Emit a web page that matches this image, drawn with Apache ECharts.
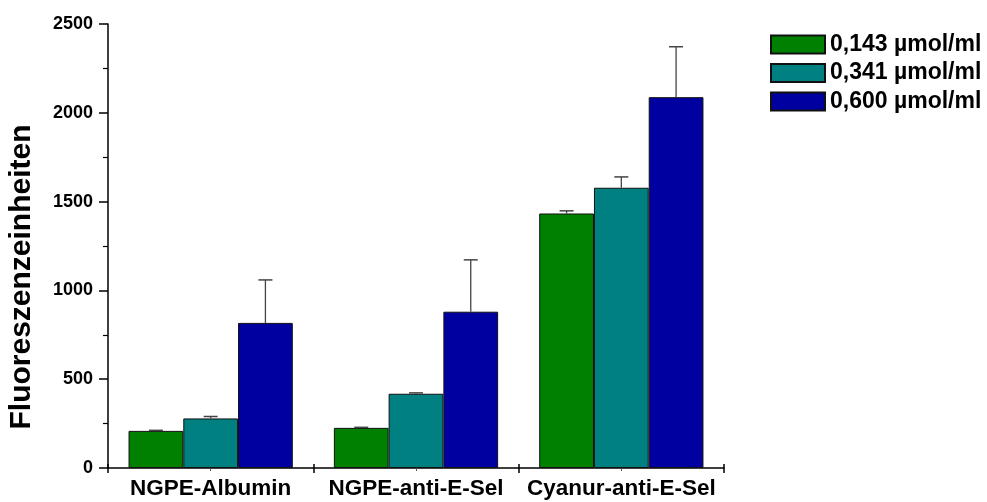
<!DOCTYPE html>
<html>
<head>
<meta charset="utf-8">
<script src="https://cdn.jsdelivr.net/npm/echarts@6/dist/echarts.min.js"></script>
<style>
  html, body { margin: 0; padding: 0; background: #fff; }
  #chart { width: 987px; height: 502px; }
</style>
</head>
<body>
<div id="chart"></div>
<script>
// Fluorescence units per formulation and lipid concentration
const categories = ['NGPE-Albumin', 'NGPE-anti-E-Sel', 'Cyanur-anti-E-Sel'];
const seriesNames = ['0,143 µmol/ml', '0,341 µmol/ml', '0,600 µmol/ml'];
const values143 = [209, 226, 1433];
const values341 = [279, 418, 1578];
const values600 = [817, 880, 2088];
// standard deviations (upper whisker only)
const err143 = [3, 3, 15];
const err341 = [11, 5, 61];
const err600 = [242, 292, 284];
const yTicks = { min: 0, max: 2500, interval: 500 };
const yTitle = 'Fluoreszenzeinheiten';

const colors = ['#008000', '#008080', '#0000A0'];
const seriesValues = [values143, values341, values600];
const seriesErrors = [err143, err341, err600];
const FONT = '"Liberation Sans", Arial, sans-serif';

const chart = echarts.init(document.getElementById('chart'));

const barSeries = seriesNames.map((name, i) => ({
  name: name,
  type: 'bar',
  xAxisIndex: 0,
  barGap: '0%',
  barCategoryGap: '20%',
  itemStyle: { color: colors[i], borderColor: '#111', borderWidth: 1 },
  data: seriesValues[i],
  z: 2
}));

const errorSeries = seriesNames.map((name, i) => ({
  type: 'custom',
  xAxisIndex: 0,
  z: 3,
  data: categories.map((c, k) => [k, seriesValues[i][k], seriesErrors[i][k]]),
  renderItem: function (params, api) {
    const k = api.value(0);
    const v = api.value(1);
    const e = api.value(2);
    const bandW = api.size([1, 0])[0];
    const barW = bandW * 0.8 / 3;
    const base = api.coord([k, v]);
    const top = api.coord([k, v + e]);
    const x = base[0] + (i - 1) * barW;
    const cap = 7;
    return {
      type: 'group',
      children: [
        { type: 'line', shape: { x1: x, y1: base[1], x2: x, y2: top[1] },
          style: { stroke: '#444', lineWidth: 1.3 } },
        { type: 'line', shape: { x1: x - cap, y1: top[1], x2: x + cap, y2: top[1] },
          style: { stroke: '#444', lineWidth: 1.5 } }
      ]
    };
  }
}));

chart.setOption({
  animation: false,
  backgroundColor: '#fff',
  grid: { left: 108, right: 263, top: 24, bottom: 34 },
  legend: {
    data: seriesNames,
    orient: 'vertical',
    left: 770,
    top: 33,
    padding: 0,
    icon: 'rect',
    itemWidth: 54,
    itemHeight: 18,
    itemGap: 5.5,
    textStyle: { fontFamily: FONT, fontWeight: 'bold', fontSize: 23, color: '#000' }
  },
  graphic: [
    {
      type: 'text',
      x: 22,
      y: 277,
      rotation: Math.PI / 2,
      style: {
        text: yTitle,
        fontFamily: FONT,
        fontWeight: 'bold',
        fontSize: 30,
        fill: '#000',
        align: 'center',
        verticalAlign: 'middle'
      }
    }
  ],
  xAxis: [
    {
      type: 'category',
      data: categories,
      position: 'bottom',
      axisLine: { lineStyle: { color: '#000', width: 1.5 } },
      axisTick: { show: true, length: 5, lineStyle: { color: '#000', width: 1.5 } },
      axisLabel: {
        interval: 0, hideOverlap: false,
        fontFamily: FONT, fontWeight: 'bold', fontSize: 22.5, color: '#000', margin: 9
      }
    },
    {
      type: 'category',
      data: categories,
      position: 'bottom',
      axisLine: { show: false },
      axisTick: { show: true, alignWithLabel: true, length: 3, lineStyle: { color: '#555', width: 1 } },
      axisLabel: { show: false }
    },
    {
      type: 'value',
      min: 0, max: 3, interval: 1,
      position: 'bottom',
      axisLine: { show: false },
      axisTick: { show: true, inside: true, length: 4, lineStyle: { color: '#000', width: 1.5 } },
      axisLabel: { show: false },
      splitLine: { show: false }
    }
  ],
  yAxis: {
    type: 'value',
    min: yTicks.min,
    max: yTicks.max,
    interval: yTicks.interval,
    axisLine: { show: true, lineStyle: { color: '#000', width: 1.5 } },
    axisTick: { show: true, length: 9, lineStyle: { color: '#000', width: 1.5 } },
    minorTick: { show: true, splitNumber: 2, length: 5, lineStyle: { color: '#000', width: 1.2 } },
    axisLabel: {
      fontFamily: FONT, fontWeight: 'bold', fontSize: 18, color: '#000', margin: 15,
      formatter: (v) => String(v)
    },
    splitLine: { show: false }
  },
  series: barSeries.concat(errorSeries)
});
</script>
</body>
</html>
